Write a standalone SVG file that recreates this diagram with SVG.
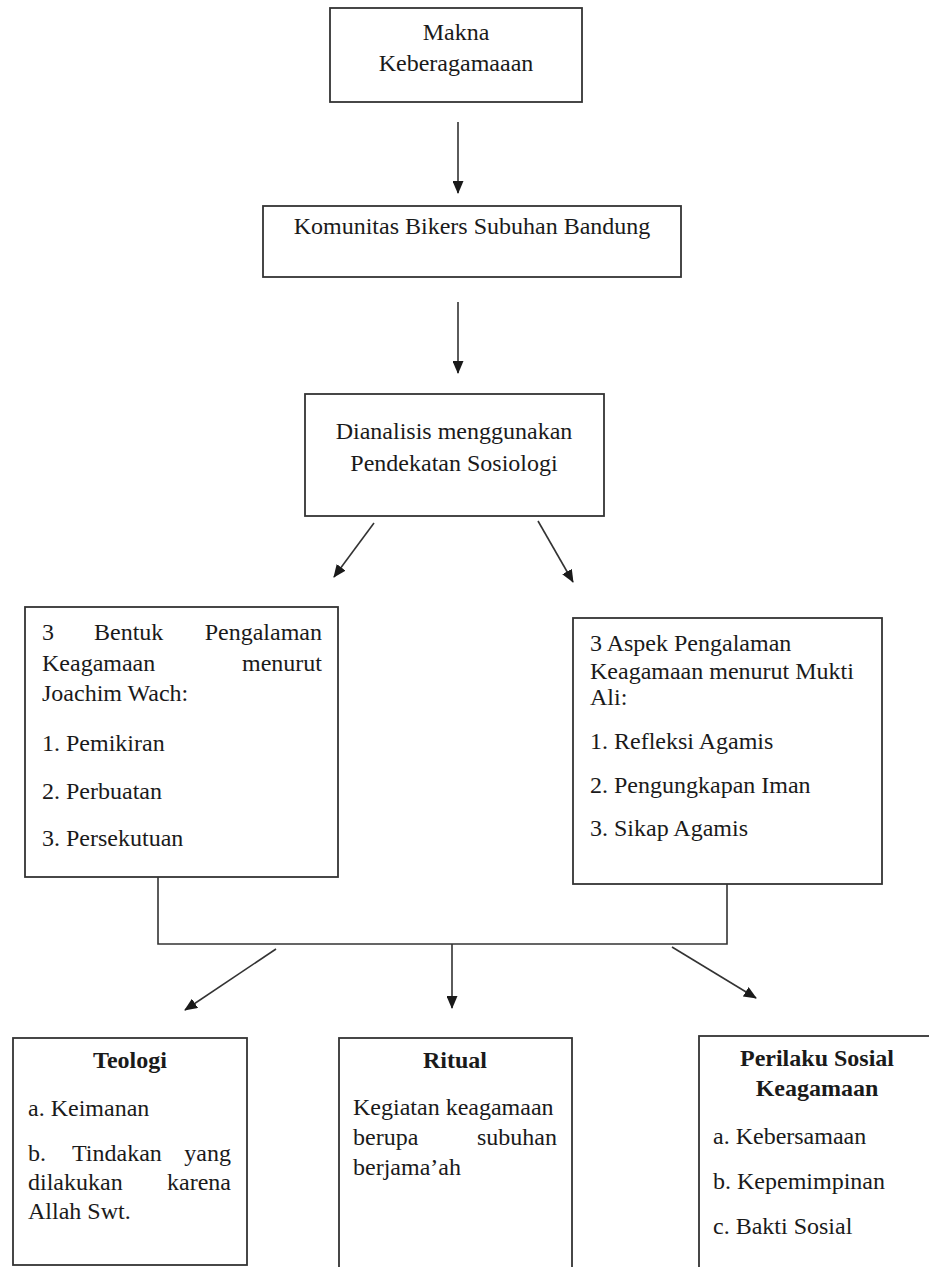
<svg xmlns="http://www.w3.org/2000/svg" width="929" height="1267" viewBox="0 0 929 1267">
<style>
.box{fill:#fff;stroke:#333;stroke-width:1.8}
.t{font-family:"Liberation Serif","Times New Roman",serif;font-size:24px;fill:#1a1a1a}
.c{text-anchor:middle}
.e{text-anchor:end}
.b{font-weight:bold}
.ln{fill:none;stroke:#333;stroke-width:1.6}
</style>
<defs>
<marker id="ah" markerUnits="userSpaceOnUse" markerWidth="13" markerHeight="11" refX="12" refY="5.5" orient="auto">
<path d="M0,0 L13,5.5 L0,11 z" fill="#1a1a1a"/>
</marker>
</defs>
<rect width="929" height="1267" fill="#fff"/>
<g id="connectors">
<line class="ln" x1="458" y1="122" x2="458" y2="193" marker-end="url(#ah)"/>
<line class="ln" x1="458" y1="302" x2="458" y2="373" marker-end="url(#ah)"/>
<line class="ln" x1="374" y1="523" x2="334" y2="577" marker-end="url(#ah)"/>
<line class="ln" x1="538" y1="521" x2="573" y2="582" marker-end="url(#ah)"/>
<path class="ln" d="M158 877 V944 H727 V884"/>
<line class="ln" x1="276" y1="949" x2="185" y2="1010" marker-end="url(#ah)"/>
<line class="ln" x1="452" y1="944" x2="452" y2="1008" marker-end="url(#ah)"/>
<line class="ln" x1="672" y1="947" x2="756" y2="998" marker-end="url(#ah)"/>
</g>
<g id="n1">
<rect class="box" x="330" y="8" width="252" height="94"/>
<text class="t c" x="456" y="40">Makna</text>
<text class="t c" x="456" y="71">Keberagamaaan</text>
</g>
<g id="n2">
<rect class="box" x="263" y="206" width="418" height="71"/>
<text class="t c" x="472" y="234">Komunitas Bikers Subuhan Bandung</text>
</g>
<g id="n3">
<rect class="box" x="305" y="394" width="299" height="122"/>
<text class="t c" x="454" y="439">Dianalisis menggunakan</text>
<text class="t c" x="454" y="471">Pendekatan Sosiologi</text>
</g>
<g id="n4">
<rect class="box" x="25" y="607" width="313" height="270"/>
<text class="t" x="42" y="640">3</text>
<text class="t" x="94" y="640">Bentuk</text>
<text class="t e" x="322" y="640">Pengalaman</text>
<text class="t" x="42" y="671">Keagamaan</text>
<text class="t e" x="322" y="671">menurut</text>
<text class="t" x="42" y="701">Joachim Wach:</text>
<text class="t" x="42" y="751">1. Pemikiran</text>
<text class="t" x="42" y="799">2. Perbuatan</text>
<text class="t" x="42" y="846">3. Persekutuan</text>
</g>
<g id="n5">
<rect class="box" x="573" y="618" width="309" height="266"/>
<text class="t" x="590" y="651">3 Aspek Pengalaman</text>
<text class="t" x="590" y="679">Keagamaan menurut Mukti</text>
<text class="t" x="590" y="705">Ali:</text>
<text class="t" x="590" y="749">1. Refleksi Agamis</text>
<text class="t" x="590" y="793">2. Pengungkapan Iman</text>
<text class="t" x="590" y="836">3. Sikap Agamis</text>
</g>
<g id="n6">
<rect class="box" x="13" y="1038" width="234" height="227"/>
<text class="t c b" x="130" y="1068">Teologi</text>
<text class="t" x="28" y="1116">a. Keimanan</text>
<text class="t" x="28" y="1161">b.</text>
<text class="t" x="72" y="1161">Tindakan</text>
<text class="t e" x="231" y="1161">yang</text>
<text class="t" x="28" y="1190">dilakukan</text>
<text class="t e" x="231" y="1190">karena</text>
<text class="t" x="28" y="1219">Allah Swt.</text>
</g>
<g id="n7">
<rect class="box" x="339" y="1038" width="233" height="240"/>
<text class="t c b" x="455" y="1068">Ritual</text>
<text class="t" x="353" y="1115">Kegiatan keagamaan</text>
<text class="t" x="353" y="1145">berupa</text>
<text class="t e" x="557" y="1145">subuhan</text>
<text class="t" x="353" y="1175">berjama’ah</text>
</g>
<g id="n8">
<rect class="box" x="699" y="1036" width="240" height="242"/>
<text class="t c b" x="817" y="1066">Perilaku Sosial</text>
<text class="t c b" x="817" y="1096">Keagamaan</text>
<text class="t" x="713" y="1144">a. Kebersamaan</text>
<text class="t" x="713" y="1189">b. Kepemimpinan</text>
<text class="t" x="713" y="1234">c. Bakti Sosial</text>
</g>
</svg>
